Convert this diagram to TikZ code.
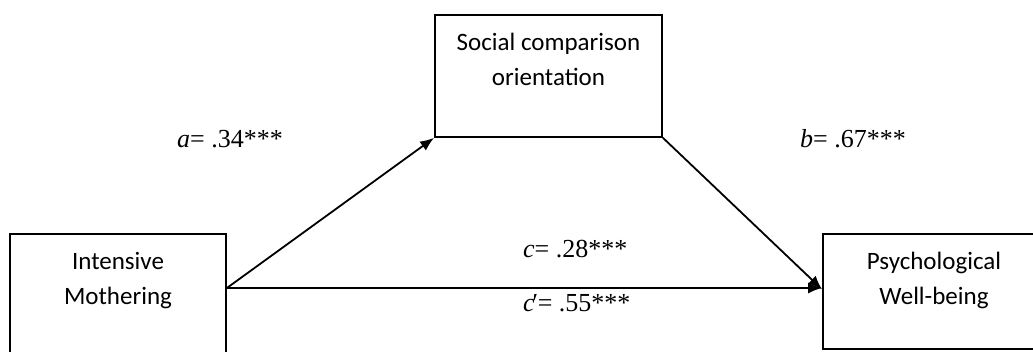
\documentclass[tikz,border=0pt]{standalone}
\usepackage{fontspec}
\setmainfont{Liberation Serif}
\newfontfamily\boxfont{Carlito}
\usepackage{tikz}
\usetikzlibrary{arrows.meta,calc,positioning}

\begin{document}
\begin{tikzpicture}[
      x=1pt, y=-1pt,
      box/.style={draw, line width=1.8pt, anchor=north, align=center,
        font=\boxfont\fontsize{25}{35}\selectfont,
        inner xsep=0pt, inner ysep=16pt, text height=55pt},
      arr/.style={-{Latex[length=14pt,width=11pt]}, line width=1.8pt},
      lbl/.style={anchor=base west, inner sep=0pt,
        font=\fontsize{26}{30}\selectfont}
    ]
    \useasboundingbox (0,0) rectangle (1033,351);
    \node[box, minimum width=216pt, text depth=63pt] (im) at (118,233) {Intensive\\Mothering};
    \node[box, minimum width=227pt, text depth=35pt] (sco) at (548.5,14) {Social comparison\\orientation};
    \node[box, minimum width=222pt, text depth=28pt] (pwb) at (934,233) {Psychological\\Well-being};
    \coordinate (imout) at ([yshift=-55pt]im.north east);

    \draw[arr] (imout) -- (sco.south west);
    \draw[arr] (sco.south east) -- ([yshift=2pt]pwb.west);
    \draw[arr] (imout) -- (imout -| pwb.west);

    \node[lbl] (la) at (177,147) {\textit{a}= .34***};
    \node[lbl] (lb) at (800,147) {\textit{b}= .67***};
    \node[lbl] (lc) at (523,257) {\textit{c}= .28***};
    \node[lbl] (lcp) at (523,311) {\textit{c\kern-4pt′}\kern1pt= .55***};
  \end{tikzpicture}
\end{document}
